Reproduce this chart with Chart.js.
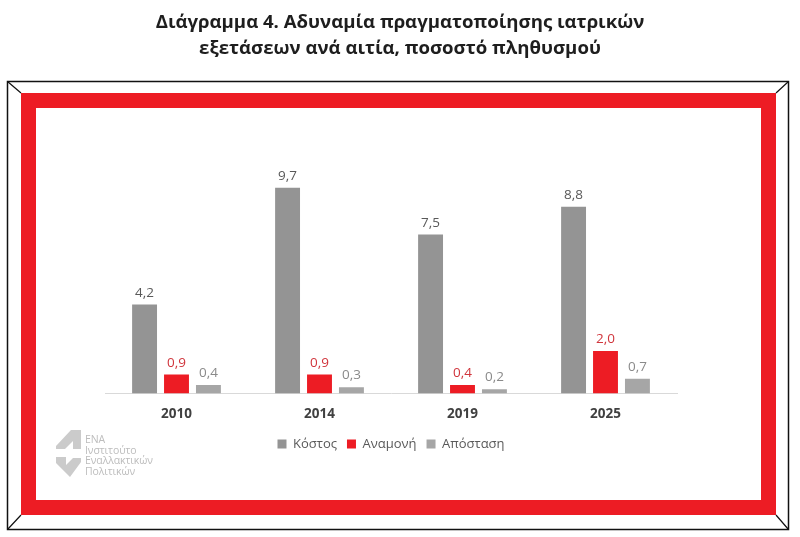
<!DOCTYPE html>
<html>
<head>
<meta charset="utf-8">
<script src="https://cdn.jsdelivr.net/npm/chart.js@4"></script>
<style>
  html, body { margin: 0; padding: 0; background: #fff; }
  #wrap { position: relative; width: 800px; height: 537px; overflow: hidden; }
  #c { position: absolute; left: 0; top: 0; }
  #title { position: absolute; left: 0; top: 8px; width: 800px; text-align: center;
    font-family: "Open Sans", sans-serif; font-weight: 700; font-size: 18.6px; line-height: 26px; color: #1e1e1e; }
  #logo { position: absolute; left: 85px; top: 434px; font-family: "Open Sans", sans-serif;
    font-size: 10.5px; line-height: 10.7px; color: #bdbdbd; letter-spacing: -0.1px; }
</style>
</head>
<body>
<div id="wrap">
  <canvas id="c" width="800" height="537"></canvas>
  <div id="title">Διάγραμμα 4. Αδυναμία πραγματοποίησης ιατρικών<br>εξετάσεων ανά αιτία, ποσοστό πληθυσμού</div>
  <div id="logo">ΕΝΑ<br>Ινστιτούτο<br>Εναλλακτικών<br>Πολιτικών</div>
</div>
<script>
const categories = ["2010", "2014", "2019", "2025"];
const seriesNames = ["Κόστος", "Αναμονή", "Απόσταση"];
const kostos = [4.2, 9.7, 7.5, 8.8];
const anamoni = [0.9, 0.9, 0.4, 2.0];
const apostasi = [0.4, 0.3, 0.2, 0.7];

const barColors = ["#949494", "#ed1c24", "#a6a6a6"];
const labelColors = ["#595959", "#d0353c", "#8a8a8a"];

const framePlugin = {
  id: "frame",
  beforeDraw(chart) {
    const ctx = chart.ctx;
    ctx.save();
    ctx.fillStyle = "#fff";
    ctx.fillRect(0, 0, 800, 537);
    ctx.strokeStyle = "#111";
    ctx.lineWidth = 1.5;
    ctx.strokeRect(7.5, 81.5, 781, 448);
    ctx.fillStyle = "#ed1c24";
    ctx.fillRect(21, 93, 755, 15);
    ctx.fillRect(21, 500, 755, 15);
    ctx.fillRect(21, 93, 15, 422);
    ctx.fillRect(761, 93, 15, 422);
    ctx.lineWidth = 1.2;
    ctx.beginPath();
    ctx.moveTo(7.5, 81.5); ctx.lineTo(21, 93);
    ctx.moveTo(788.5, 81.5); ctx.lineTo(776, 93);
    ctx.moveTo(7.5, 529.5); ctx.lineTo(21, 515);
    ctx.moveTo(788.5, 529.5); ctx.lineTo(776, 515);
    ctx.stroke();
    // logo shapes
    ctx.fillStyle = "#cbcbcb";
    ctx.beginPath();
    ctx.moveTo(56, 446); ctx.lineTo(71, 430); ctx.lineTo(81, 430);
    ctx.lineTo(81, 449); ctx.lineTo(73, 449); ctx.lineTo(73, 441);
    ctx.lineTo(65, 449); ctx.lineTo(56, 449); ctx.closePath();
    ctx.fill();
    ctx.beginPath();
    ctx.moveTo(56, 457); ctx.lineTo(66, 457); ctx.lineTo(66, 465);
    ctx.lineTo(73, 458); ctx.lineTo(81, 458); ctx.lineTo(81, 462);
    ctx.lineTo(70, 477); ctx.lineTo(56, 463); ctx.closePath();
    ctx.fill();
    ctx.restore();
  }
};

const valueLabels = {
  id: "valueLabels",
  afterDatasetsDraw(chart) {
    const ctx = chart.ctx;
    ctx.save();
    ctx.font = "13.5px 'Open Sans', sans-serif";
    ctx.textAlign = "center";
    ctx.textBaseline = "bottom";
    chart.data.datasets.forEach((ds, i) => {
      const meta = chart.getDatasetMeta(i);
      ctx.fillStyle = labelColors[i];
      meta.data.forEach((bar, j) => {
        const v = ds.data[j];
        ctx.fillText(v.toFixed(1).replace(".", ","), bar.x, bar.y - 5);
      });
    });
    ctx.restore();
  }
};

new Chart(document.getElementById("c"), {
  type: "bar",
  data: {
    labels: categories,
    datasets: [
      { label: seriesNames[0], data: kostos, backgroundColor: barColors[0] },
      { label: seriesNames[1], data: anamoni, backgroundColor: barColors[1] },
      { label: seriesNames[2], data: apostasi, backgroundColor: barColors[2] }
    ]
  },
  options: {
    responsive: false,
    animation: false,
    layout: { padding: { left: 105, right: 123, top: 139, bottom: 76.5 } },
    datasets: { bar: { categoryPercentage: 0.67, barPercentage: 0.78 } },
    scales: {
      x: {
        grid: { display: false, drawTicks: false },
        border: { color: "#d9d9d9", width: 1 },
        ticks: { color: "#404040", font: { family: "'Open Sans', sans-serif", size: 13.5, weight: "bold" }, padding: 13 },
        afterFit(scale) { scale.height = 34; }
      },
      y: { display: false, min: 0, max: 12 }
    },
    plugins: {
      legend: {
        position: "bottom",
        labels: {
          boxWidth: 9, boxHeight: 9, padding: 10,
          color: "#595959",
          font: { family: "'Open Sans', sans-serif", size: 13 }
        }
      },
      tooltip: { enabled: false },
      title: { display: false }
    }
  },
  plugins: [framePlugin, valueLabels]
});
</script>
</body>
</html>
